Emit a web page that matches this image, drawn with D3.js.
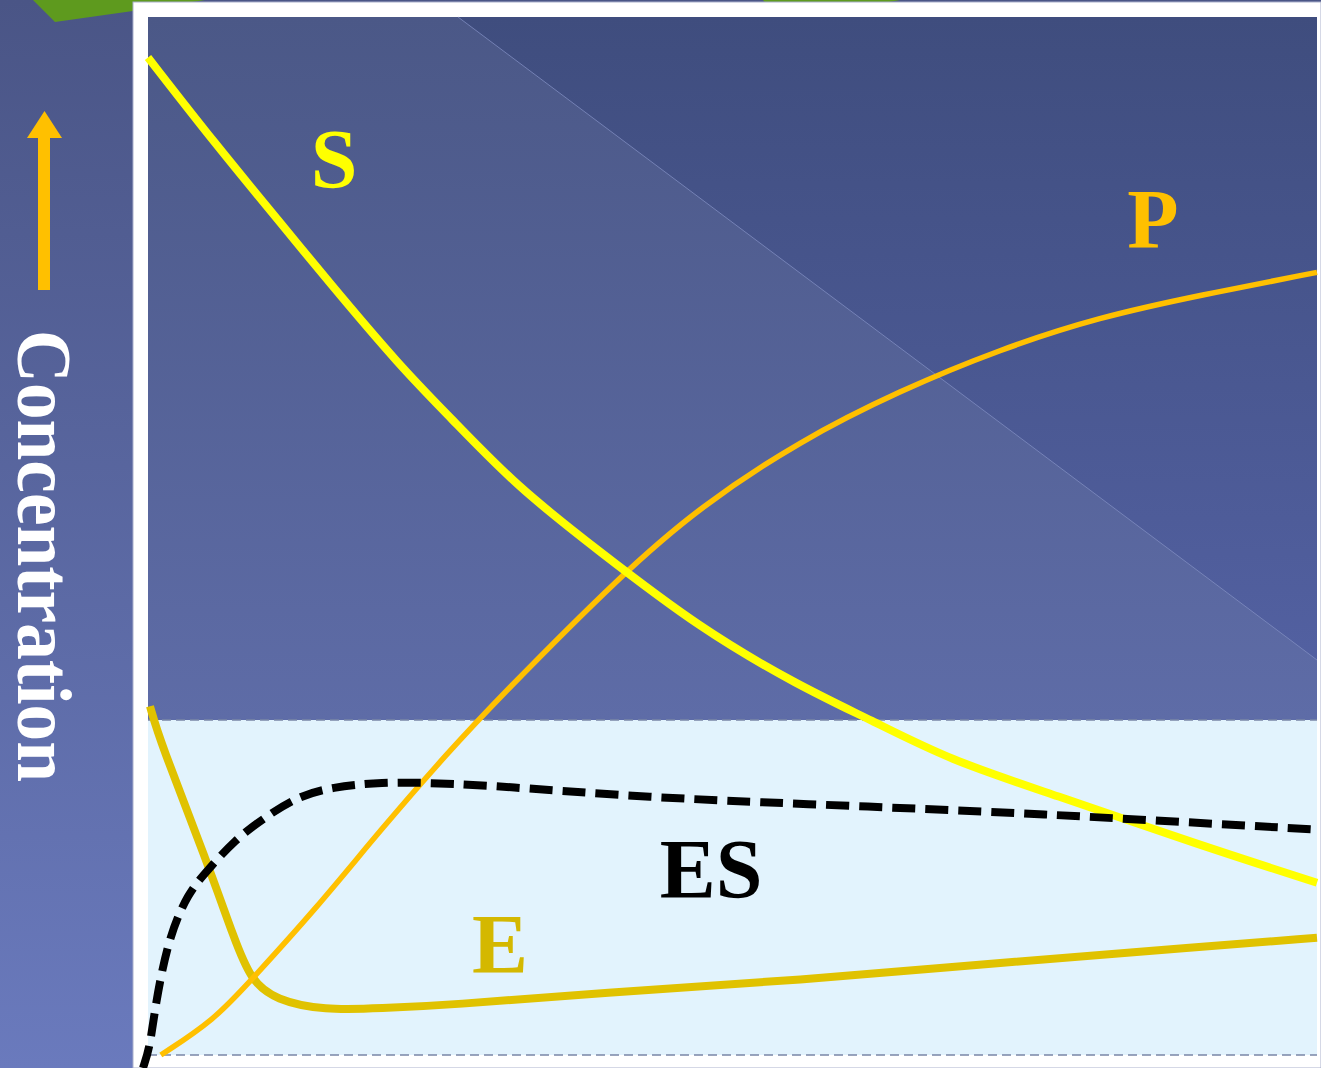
<!DOCTYPE html>
<html><head><meta charset="utf-8">
<script src="https://cdn.jsdelivr.net/npm/d3@7"></script>
<style>html,body{margin:0;padding:0;background:#4a5586;}svg{display:block;}</style>
</head><body>
<svg id="c" width="1321" height="1068"></svg>
<script>
// Time axis (0-100) and concentration (0-100)
const sTime = [0,5.73,11.38,15.3,21.6,25.8,31.6,38.4,47.2,55.8,61.8,68.6,77.2,90.0,100];
const sConc = [96.1,87.8,80.1,74.7,66.3,61.5,54.7,48.7,41.1,35.5,32.3,28.4,25.2,20.2,16.6];

const pTime = [1.1,5.7,8.8,14.3,19.9,25.7,30.1,40.6,47.2,55.8,64.3,72.9,81.4,90.0,100];
const pConc = [0,3.4,7.2,14.0,21.7,29.2,34.5,46.4,52.8,59.2,64.0,68.0,71.1,73.2,75.4];

const eTime = [0.17,1.0,5.1,7.4,8.8,10.9,15.1,19.9,25.7,38.7,55.8,72.9,90.0,100];
const eConc = [33.6,30.3,18.5,11.1,7.2,5.3,4.3,4.5,4.8,6.0,7.2,8.9,10.4,11.3];

const esTime = [-0.43,0.17,0.6,1.7,3.4,5.1,7.4,10.0,12.8,15.7,19.9,24.8,30.1,42.9,55.8,72.9,81.4,100.3];
const esConc = [-1.25,0.77,4.6,11.1,15.6,17.8,20.7,22.9,24.9,25.8,26.3,26.2,25.9,24.8,24.2,23.4,22.9,21.7];

const labels = ["S","P","ES","E"];
const yAxisTitle = "Concentration";

const svg = d3.select("#c");
const W = 1321, H = 1068;
const L = 148, R = 1317, T = 17, B = 1055;
const x = d3.scaleLinear().domain([0,100]).range([L,R]);
const y = d3.scaleLinear().domain([0,100]).range([B,T]);

const defs = svg.append("defs");
function grad(id, stops, y1, y2){
  const g = defs.append("linearGradient").attr("id",id).attr("gradientUnits","userSpaceOnUse")
    .attr("x1",0).attr("x2",0).attr("y1",y1).attr("y2",y2);
  stops.forEach(s=>g.append("stop").attr("offset",s[0]).attr("stop-color",s[1]));
}
grad("bg",[[0,"#4a5586"],[1,"#6a7abd"]],0,H);
grad("plotbg",[[0,"#3f4d7e"],[1,"#5462a4"]],T,720);
grad("lightbg",[[0,"#4b5887"],[1,"#5e6ca7"]],T,720);

svg.append("rect").attr("width",W).attr("height",H).attr("fill","url(#bg)");
// decorative green shapes
svg.append("polygon").attr("points","33,0 205,0 140,10 55,22").attr("fill","#5e9a1e");
svg.append("polygon").attr("points","763,0 900,0 806,17 780,22").attr("fill","#5e9a1e");

// white frame
svg.append("rect").attr("x",133).attr("y",2).attr("width",W-133).attr("height",H-2)
  .attr("fill","#ffffff").attr("stroke","#aab0cc").attr("stroke-width",1);

// plot background
svg.append("rect").attr("x",L).attr("y",T).attr("width",R-L).attr("height",720-T).attr("fill","url(#plotbg)");
svg.append("polygon").attr("points",`${L},${T} 458,${T} ${R},660 ${R},720 ${L},720`).attr("fill","url(#lightbg)");
svg.append("line").attr("x1",458).attr("y1",T).attr("x2",R).attr("y2",660)
  .attr("stroke","#7f8cc0").attr("stroke-width",1).attr("opacity",0.8);

// light blue region
svg.append("rect").attr("x",L).attr("y",720).attr("width",R-L).attr("height",B-720).attr("fill","#e2f3fd");
[720,B].forEach(yy=>svg.append("line").attr("x1",L).attr("x2",R).attr("y1",yy).attr("y2",yy)
  .attr("stroke","#7a86a6").attr("stroke-width",1.5).attr("stroke-dasharray","9,5"));

const line = d3.line().x(d=>x(d[0])).y(d=>y(d[1])).curve(d3.curveBasis);
const zip = (a,b)=>a.map((v,i)=>[v,b[i]]);

svg.append("path").attr("d",line(zip(eTime,eConc))).attr("fill","none")
  .attr("stroke","#e0c200").attr("stroke-width",8);
svg.append("path").attr("d",line(zip(pTime,pConc))).attr("fill","none")
  .attr("stroke","#ffc000").attr("stroke-width",5.5);
svg.append("path").attr("d",line(zip(sTime,sConc))).attr("fill","none")
  .attr("stroke","#ffff00").attr("stroke-width",8);
svg.append("path").attr("d",line(zip(esTime,esConc))).attr("fill","none")
  .attr("stroke","#000000").attr("stroke-width",8).attr("stroke-dasharray","23,10");

const font = "'Liberation Serif','Times New Roman',serif";
const labelPos = [[334,188,"#ffff00"],[1153,248,"#ffc000"],[711,898,"#000000"],[500,973,"#d4b800"]];
labels.forEach((t,i)=>svg.append("text").attr("x",labelPos[i][0]).attr("y",labelPos[i][1])
  .attr("text-anchor","middle").attr("font-family",font).attr("font-weight","bold")
  .attr("font-size",84).attr("fill",labelPos[i][2]).text(t));

// axis arrow
svg.append("rect").attr("x",38).attr("y",136).attr("width",12).attr("height",154).attr("fill","#ffc000");
svg.append("polygon").attr("points","27,138 62,138 44.5,111").attr("fill","#ffc000");
// axis title
svg.append("text").attr("transform","translate(18,330) rotate(90)")
  .attr("font-family",font).attr("font-weight","bold").attr("font-size",78)
  .attr("fill","#ffffff").attr("textLength",452).attr("lengthAdjust","spacingAndGlyphs")
  .text(yAxisTitle);
</script>
</body></html>
